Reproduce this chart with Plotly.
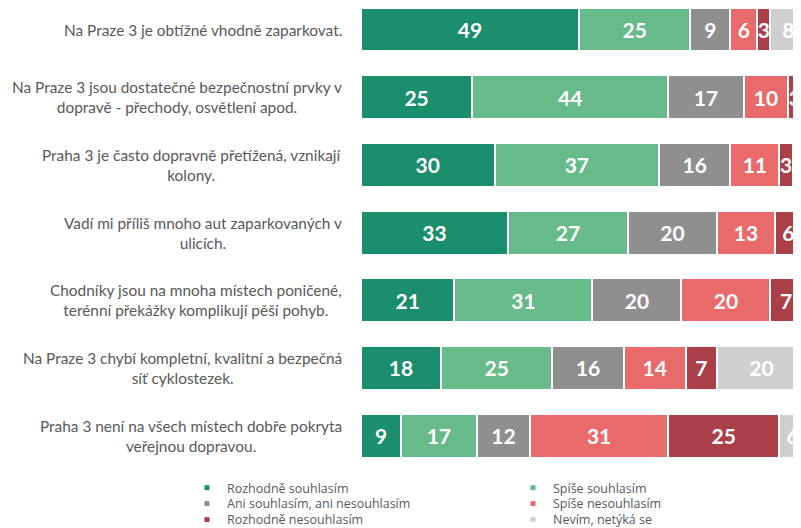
import plotly.graph_objects as go

categories = [
    "Na Praze 3 je obtížné vhodně zaparkovat.",
    "Na Praze 3 jsou dostatečné bezpečnostní prvky v<br>dopravě - přechody, osvětlení apod.",
    "Praha 3 je často dopravně přetížená, vznikají<br>kolony.",
    "Vadí mi příliš mnoho aut zaparkovaných v<br>ulicích.",
    "Chodníky jsou na mnoha místech poničené,<br>terénní překážky komplikují pěší pohyb.",
    "Na Praze 3 chybí kompletní, kvalitní a bezpečná<br>síť cyklostezek.",
    "Praha 3 není na všech místech dobře pokryta<br>veřejnou dopravou.",
]

series_names = [
    "Rozhodně souhlasím",
    "Spíše souhlasím",
    "Ani souhlasím, ani nesouhlasím",
    "Spíše nesouhlasím",
    "Rozhodně nesouhlasím",
    "Nevím, netýká se",
]

rozhodne_souhlasim = [49, 25, 30, 33, 21, 18, 9]
spise_souhlasim = [25, 44, 37, 27, 31, 25, 17]
ani_ani = [9, 17, 16, 20, 20, 16, 12]
spise_nesouhlasim = [6, 10, 11, 13, 20, 14, 31]
rozhodne_nesouhlasim = [3, 3, 3, 6, 7, 7, 25]
nevim = [8, 1, 3, 1, 1, 20, 6]

series_values = [rozhodne_souhlasim, spise_souhlasim, ani_ani,
                 spise_nesouhlasim, rozhodne_nesouhlasim, nevim]
colors = ["#1b8e6b", "#67bb8a", "#8f8f8f", "#e96a6a", "#ab3f47", "#cfcfcf"]
legend_ids = ["legend", "legend", "legend2", "legend2", "legend3", "legend3"]

idx = list(range(len(categories)))

fig = go.Figure()
for name, vals, col in zip(series_names, series_values, colors):
    fig.add_trace(go.Bar(
        y=idx, x=vals, name=name, orientation="h",
        marker=dict(color=col, line=dict(color="white", width=2)),
        text=[str(v) for v in vals],
        textposition="inside", insidetextanchor="middle",
        constraintext="none", cliponaxis=True,
        textfont=dict(family="Lato, sans-serif", size=21, color="white", weight="bold"),
        hoverinfo="skip", showlegend=False,
    ))

# legend entries (small square markers, like the reference)
for name, col, lg in zip(series_names, colors, legend_ids):
    fig.add_trace(go.Scatter(
        x=[None], y=[None], mode="markers", name=name,
        marker=dict(symbol="square", size=5, color=col),
        legend=lg, showlegend=True, hoverinfo="skip",
    ))

annotations = []
for i, c in enumerate(categories):
    annotations.append(dict(
        x=0, xref="paper", xanchor="right", xshift=-17,
        y=i, yref="y", yanchor="middle",
        text=c, showarrow=False, align="center",
        font=dict(family="Lato, sans-serif", size=15.4, color="#595959"),
    ))

legend_font = dict(family="Open Sans, sans-serif", size=12.5, color="#595959")
legend_common = dict(orientation="h", x=-0.3884, xanchor="left", yanchor="top",
                     entrywidth=281, entrywidthmode="pixels", font=legend_font,
                     itemwidth=30, traceorder="normal", bgcolor="rgba(0,0,0,0)")

fig.update_layout(
    barmode="stack",
    bargap=0.35,
    width=801, height=528,
    margin=dict(l=353, r=0, t=0, b=63, autoexpand=False),
    paper_bgcolor="white", plot_bgcolor="white",
    xaxis=dict(range=[0, 100.67], showgrid=False, zeroline=False,
               showticklabels=False, fixedrange=True, showline=False),
    yaxis=dict(range=[6.5539, -0.3177], showgrid=False, zeroline=False,
               showticklabels=False, showline=False),
    annotations=annotations,
    showlegend=True,
    legend=dict(y=-0.0001, **legend_common),
    legend2=dict(y=-0.0344, **legend_common),
    legend3=dict(y=-0.0688, **legend_common),
    font=dict(family="Lato, sans-serif"),
)

fig.write_html("out.html")
